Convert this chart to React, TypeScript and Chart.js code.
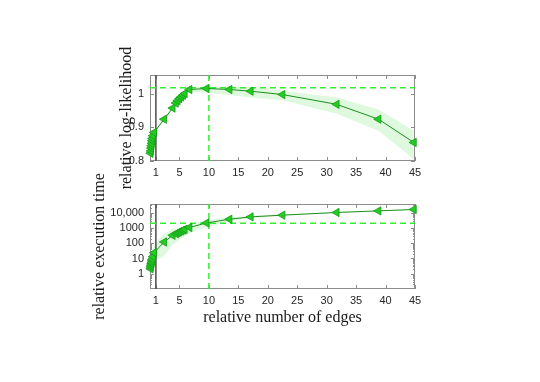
import React, { useEffect, useRef } from "react";
import { Chart, registerables } from "chart.js";
Chart.register(...registerables);

// relative number of edges (shared by both panels)
const edges = [0.1, 0.15, 0.2, 0.25, 0.3, 0.35, 0.4, 0.5, 0.7, 2.4, 3.85, 4.4, 4.7, 5.0, 5.3, 5.6, 5.9, 6.7, 9.6, 13.5, 17.1, 22.5, 31.7, 38.8, 44.8];
// relative log-likelihood (mean and band)
const logLik = [0.823, 0.83, 0.838, 0.845, 0.852, 0.86, 0.867, 0.875, 0.885, 0.924, 0.957, 0.972, 0.979, 0.985, 0.99, 0.995, 1.0, 1.012, 1.015, 1.012, 1.007, 0.997, 0.968, 0.924, 0.855];
const logLikLow = [0.819, 0.826, 0.834, 0.841, 0.848, 0.856, 0.863, 0.871, 0.881, 0.92, 0.952, 0.966, 0.972, 0.978, 0.983, 0.988, 0.993, 1.003, 1.003, 0.996, 0.988, 0.98, 0.94, 0.89, 0.805];
const logLikHigh = [0.827, 0.834, 0.842, 0.849, 0.856, 0.864, 0.871, 0.879, 0.889, 0.928, 0.962, 0.978, 0.985, 0.991, 0.997, 1.002, 1.007, 1.019, 1.022, 1.021, 1.019, 1.008, 0.988, 0.953, 0.89];
// relative execution time (mean and band)
const execTime = [2.1, 2.8, 3.5, 4.5, 5.5, 7, 9, 13, 24, 120, 330, 420, 480, 560, 640, 720, 800, 1070, 2130, 3720, 5300, 6900, 10300, 13100, 16200];
const execLow = [1.0, 1.3, 1.6, 2.0, 2.4, 2.9, 3.5, 4.5, 6, 15, 80, 110, 140, 170, 200, 240, 280, 450, 1100, 2600, 4300, 6200, 9700, 12400, 15400];
const execHigh = [4.5, 6, 8, 11, 14, 18, 24, 40, 90, 400, 900, 1000, 1050, 1100, 1200, 1300, 1400, 1800, 3200, 4800, 6200, 7600, 10900, 13800, 17000];

const xTicks = [1, 5, 10, 15, 20, 25, 30, 35, 40, 45];
const llTicks = [0.8, 0.9, 1];
const timeTicks = [1, 10, 100, 1000, 10000];
const timeTickLabels = ["1", "10", "100", "1000", "10,000"];

const X_MIN = 0, X_MAX = 45;
const LL_MIN = 0.8, LL_MAX = 1.055;
const T_MIN = 0.1, T_MAX = 37000;
const BASE_X = 1;
const REF_X = 10;
const REF_LL = 1.017;
const REF_TIME = 2000;

const LINE_GREEN = "#1e8f1e";
const MARK_FILL = "#22cc22";
const MARK_EDGE = "#159a15";
const BAND = "#dff9df";
const DASH_GREEN = "#33ee33";
const BOX = "#8c8c8c";
const TICK_FONT = { family: "'Liberation Sans', Arial, sans-serif", size: 11 };
const TITLE_FONT = { family: "'Liberation Serif', 'Times New Roman', serif", size: 16 };

const pts = (xs: number[], ys: number[]) => xs.map((x, i) => ({ x, y: ys[i] }));

const axesBox = {
  id: "axesBox",
  beforeDatasetsDraw(chart: any) {
    const { ctx, chartArea, scales } = chart;
    const { left, right, top, bottom } = chartArea;
    const x = scales.x, y = scales.y;
    ctx.save();
    ctx.strokeStyle = BOX;
    ctx.lineWidth = 1;
    ctx.strokeRect(left + 0.5, top + 0.5, right - left - 1, bottom - top - 1);
    ctx.beginPath();
    for (const t of x.ticks) {
      const px = Math.round(x.getPixelForValue(t.value)) + 0.5;
      ctx.moveTo(px, bottom); ctx.lineTo(px, bottom - 4);
      ctx.moveTo(px, top); ctx.lineTo(px, top + 4);
    }
    for (const t of y.ticks) {
      const py = Math.round(y.getPixelForValue(t.value)) + 0.5;
      ctx.moveTo(left, py); ctx.lineTo(left + 4, py);
      ctx.moveTo(right, py); ctx.lineTo(right - 4, py);
    }
    if (y.type === "logarithmic") {
      for (let d = 0.1; d < T_MAX; d *= 10) {
        for (let m = 2; m <= 9; m++) {
          const v = d * m;
          if (v < T_MIN || v > T_MAX) continue;
          const py = Math.round(y.getPixelForValue(v)) + 0.5;
          ctx.moveTo(left, py); ctx.lineTo(left + 2, py);
          ctx.moveTo(right, py); ctx.lineTo(right - 2, py);
        }
      }
    }
    ctx.stroke();
    ctx.restore();
  },
};

function makeConfig(kind: "ll" | "time"): any {
  const isLL = kind === "ll";
  const yMin = isLL ? LL_MIN : T_MIN;
  const yMax = isLL ? LL_MAX : T_MAX;
  const mean = isLL ? logLik : execTime;
  const low = isLL ? logLikLow : execLow;
  const high = isLL ? logLikHigh : execHigh;
  const refY = isLL ? REF_LL : REF_TIME;
  const area = isLL
    ? { top: 75, bottom: 161, yWidth: 33, xHeight: 20 }
    : { top: 204, bottom: 289, yWidth: 60, xHeight: 38 };
  const left = 150, right = 415;
  return {
    type: "line",
    data: {
      datasets: [
        { order: 4, data: pts(edges, low), borderWidth: 0, pointRadius: 0, fill: false, borderColor: "rgba(0,0,0,0)" },
        { order: 3, data: pts(edges, high), borderWidth: 0, pointRadius: 0, fill: "-1", backgroundColor: BAND, borderColor: "rgba(0,0,0,0)" },
        { order: 2, data: [{ x: BASE_X, y: yMin }, { x: BASE_X, y: yMax }], borderColor: "#4a4a4a", borderWidth: 1.5, pointRadius: 0 },
        { order: 1, data: [{ x: REF_X, y: yMin }, { x: REF_X, y: yMax }], borderColor: DASH_GREEN, borderWidth: 1.5, borderDash: [6, 4], pointRadius: 0 },
        { order: 1, data: [{ x: X_MIN, y: refY }, { x: X_MAX, y: refY }], borderColor: DASH_GREEN, borderWidth: 1.5, borderDash: [6, 4], pointRadius: 0 },
        {
          order: 0,
          data: pts(edges, mean),
          borderColor: LINE_GREEN,
          borderWidth: 1,
          pointStyle: "triangle",
          pointRotation: -90,
          pointRadius: 4.8,
          pointBackgroundColor: MARK_FILL,
          pointBorderColor: MARK_EDGE,
          pointBorderWidth: 0.8,
          clip: 6,
        },
      ],
    },
    options: {
      animation: false,
      responsive: false,
      events: [],
      layout: {
        padding: {
          left: left - area.yWidth,
          right: 540 - right,
          top: area.top,
          bottom: 382 - area.bottom - area.xHeight,
        },
      },
      plugins: { legend: { display: false }, tooltip: { enabled: false } },
      scales: {
        x: {
          type: "linear",
          min: X_MIN,
          max: X_MAX,
          afterBuildTicks: (s: any) => { s.ticks = xTicks.map((v) => ({ value: v })); },
          afterFit: (s: any) => { s.height = area.xHeight; },
          grid: { display: false, drawTicks: false },
          border: { display: false },
          ticks: { autoSkip: false, maxRotation: 0, padding: 5, color: "#262626", font: TICK_FONT },
          title: {
            display: !isLL,
            text: "relative number of edges",
            color: "#1a1a1a",
            font: TITLE_FONT,
            padding: { top: 0, bottom: 0 },
          },
        },
        y: {
          type: isLL ? "linear" : "logarithmic",
          min: yMin,
          max: yMax,
          afterBuildTicks: (s: any) => {
            s.ticks = (isLL ? llTicks : timeTicks).map((v) => ({ value: v }));
          },
          afterFit: (s: any) => { s.width = area.yWidth; },
          grid: { display: false, drawTicks: false },
          border: { display: false },
          ticks: {
            padding: 6,
            color: "#262626",
            font: TICK_FONT,
            callback: (v: any, i: number) => (isLL ? String(llTicks[i]) : timeTickLabels[i]),
          },
          title: {
            display: true,
            text: isLL ? "relative log-likelihood" : "relative execution time",
            color: "#1a1a1a",
            font: TITLE_FONT,
            padding: { top: 0, bottom: 0 },
          },
        },
      },
    },
    plugins: [axesBox],
  };
}

function Panel({ kind }: { kind: "ll" | "time" }) {
  const ref = useRef<HTMLCanvasElement | null>(null);
  useEffect(() => {
    if (!ref.current) return;
    const chart = new Chart(ref.current, makeConfig(kind));
    return () => chart.destroy();
  }, [kind]);
  return (
    <canvas
      ref={ref}
      width={540}
      height={382}
      style={{ position: "absolute", left: 0, top: 0, width: 540, height: 382 }}
    />
  );
}

export default function App() {
  return (
    <div style={{ position: "fixed", left: 0, top: 0, width: 540, height: 382, background: "#fff" }}>
      <Panel kind="ll" />
      <Panel kind="time" />
    </div>
  );
}
